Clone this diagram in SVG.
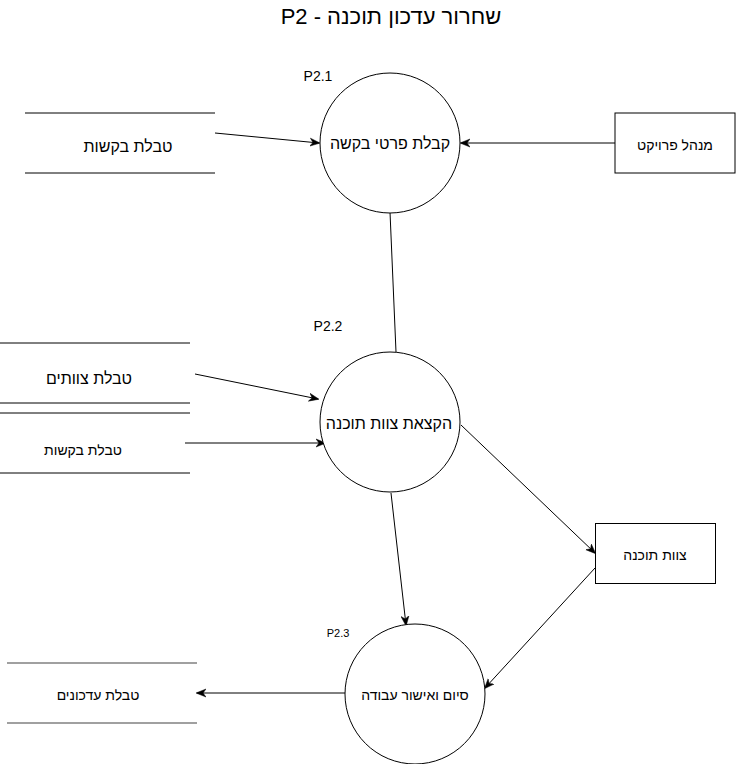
<svg xmlns="http://www.w3.org/2000/svg" width="736" height="764" viewBox="0 0 736 764">
  <style>
    text { font-family: "Liberation Sans", "DejaVu Sans", Arial, sans-serif; fill: #000; text-anchor: middle; }
    .title { font-size: 22px; }
    .proc { fill: #fff; stroke: #000; stroke-width: 1; }
    .ent { fill: #fff; stroke: #000; stroke-width: 1; }
    .store { stroke: #000; stroke-width: 1; fill: none; }
    .store-grey { stroke: #808080; stroke-width: 1.5; fill: none; }
    .flow { stroke: #000; stroke-width: 1; fill: none; }
    .t16 { font-size: 16px; }
    .t14 { font-size: 14px; }
    .t11 { font-size: 11px; }
  </style>
  <defs>
    <marker id="arrow" viewBox="0 0 10 10" refX="9" refY="5" markerWidth="10" markerHeight="10" markerUnits="userSpaceOnUse" orient="auto">
      <path d="M0,1 L10,5 L0,9 L3,5 Z" fill="#000" stroke="#000" stroke-width="0.5"/>
    </marker>
  </defs>

  <rect width="736" height="764" fill="#fff"/>

  <g id="title">
    <text class="title" x="391" y="24" direction="rtl">שחרור עדכון תוכנה - P2</text>
  </g>

  <g id="connectors">
    <line class="flow" x1="215" y1="133" x2="319" y2="143" marker-end="url(#arrow)"/>
    <line class="flow" x1="615" y1="143" x2="461" y2="143" marker-end="url(#arrow)"/>
    <line class="flow" x1="390" y1="212" x2="396" y2="352"/>
    <line class="flow" x1="195" y1="374" x2="318" y2="399" marker-end="url(#arrow)"/>
    <line class="flow" x1="185" y1="443" x2="325" y2="443" marker-end="url(#arrow)"/>
    <line class="flow" x1="461" y1="425" x2="595" y2="553" marker-end="url(#arrow)"/>
    <line class="flow" x1="391" y1="493" x2="406" y2="625" marker-end="url(#arrow)"/>
    <line class="flow" x1="595" y1="568" x2="485" y2="688" marker-end="url(#arrow)"/>
    <line class="flow" x1="345" y1="693" x2="197" y2="693" marker-end="url(#arrow)"/>
  </g>

  <g id="P2.1">
    <circle class="proc" cx="390" cy="143" r="70"/>
    <text class="t16" x="390" y="149">קבלת פרטי בקשה</text>
    <text class="t14" x="318" y="81">P2.1</text>
  </g>

  <g id="P2.2">
    <circle class="proc" cx="390" cy="422" r="70"/>
    <text class="t16" x="389" y="429">הקצאת צוות תוכנה</text>
    <text class="t14" x="328" y="331">P2.2</text>
  </g>

  <g id="P2.3">
    <circle class="proc" cx="415" cy="694" r="70"/>
    <text class="t14" x="415" y="700">סיום ואישור עבודה</text>
    <text class="t11" x="338" y="637">P2.3</text>
  </g>

  <g id="store-requests-1">
    <line class="store" x1="25" y1="113" x2="215" y2="113"/>
    <line class="store" x1="25" y1="173" x2="215" y2="173"/>
    <text class="t16" x="128" y="152">טבלת בקשות</text>
  </g>

  <g id="store-teams">
    <line class="store" x1="0" y1="343" x2="190" y2="343"/>
    <line class="store" x1="0" y1="403" x2="190" y2="403"/>
    <text class="t16" x="89" y="384">טבלת צוותים</text>
  </g>

  <g id="store-requests-2">
    <line class="store" x1="0" y1="413" x2="190" y2="413"/>
    <line class="store" x1="0" y1="473" x2="190" y2="473"/>
    <text class="t14" x="83" y="455">טבלת בקשות</text>
  </g>

  <g id="store-updates">
    <line class="store-grey" x1="7" y1="663" x2="197" y2="663"/>
    <line class="store-grey" x1="7" y1="723" x2="197" y2="723"/>
    <text class="t14" x="98" y="700">טבלת עדכונים</text>
  </g>

  <g id="project-manager">
    <rect class="ent" x="615" y="113" width="120" height="60"/>
    <text class="t14" x="675" y="150">מנהל פרויקט</text>
  </g>

  <g id="software-team">
    <rect class="ent" x="595.5" y="523.5" width="120" height="60"/>
    <text class="t14" x="655" y="560">צוות תוכנה</text>
  </g>
</svg>
